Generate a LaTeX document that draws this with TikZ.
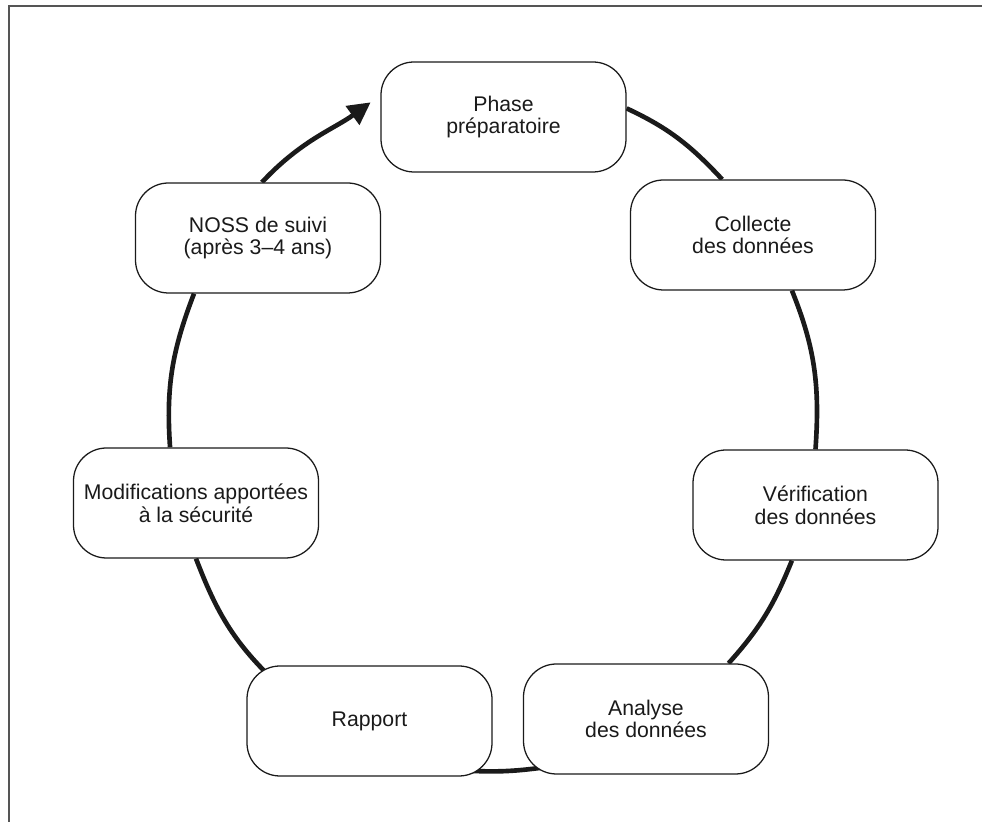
\documentclass[tikz,border=0pt]{standalone}
\usepackage{fontspec}
\setmainfont{Liberation Sans}
\usetikzlibrary{arrows.meta,backgrounds}
\definecolor{framegray}{HTML}{555555}
\definecolor{inkgray}{HTML}{1A1A1A}
\begin{document}
\begin{tikzpicture}[
	stage/.style={draw=inkgray, line width=0.9pt, fill=white, rounded corners=0.825cm, minimum width=6.125cm, minimum height=2.75cm, align=center, inner sep=0pt, text=inkgray, font=\fontsize{15.1}{16.2}\selectfont},
	loopline/.style={draw=inkgray, line width=3.3pt}]
	\useasboundingbox (0,0) rectangle (24.55,20.55);
	\draw[framegray, line width=1.1pt] (0.225,0) -- (0.225,20.4) -- (24.55,20.4);
	\node[stage] (phase) at (12.5875,17.625) {Phase\\préparatoire};
	\node[stage] (collecte) at (18.825,14.675) {Collecte\\des données};
	\node[stage] (verif) at (20.3875,7.925) {Vérification\\des données};
	\node[stage] (analyse) at (16.15,2.575) {Analyse\\des données};
	\node[stage] (rapport) at (9.2375,2.525) {Rapport};
	\node[stage] (modif) at (4.9,7.975) {Modifications apportées\\à la sécurité};
	\node[stage] (noss) at (6.45,14.6) {NOSS de suivi\\(après 3–4 ans)};
	\begin{scope}[on background layer]
	\draw[loopline] (phase.4) to[out=-25, in=133] (collecte.119);
	\draw[loopline] (collecte.-55) to[out=-68, in=86] (verif.north);
	\draw[loopline] (verif.-113) to[out=-112, in=48] (analyse.34);
	\draw[loopline] ([yshift=0.2cm]analyse.-150) to[out=-172, in=-3] ([yshift=0.15cm]rapport.-30);
	\draw[loopline] ([yshift=-0.36cm]rapport.150) to[out=136, in=-69] (modif.south);
	\draw[loopline] (modif.115) to[out=94, in=-111] (noss.-139);
	\draw[loopline, -{Triangle[length=16pt, width=16pt]}, shorten >=0.3cm] (noss.86) to[out=47, in=216] (phase.170);
	\end{scope}
\end{tikzpicture}
\end{document}
